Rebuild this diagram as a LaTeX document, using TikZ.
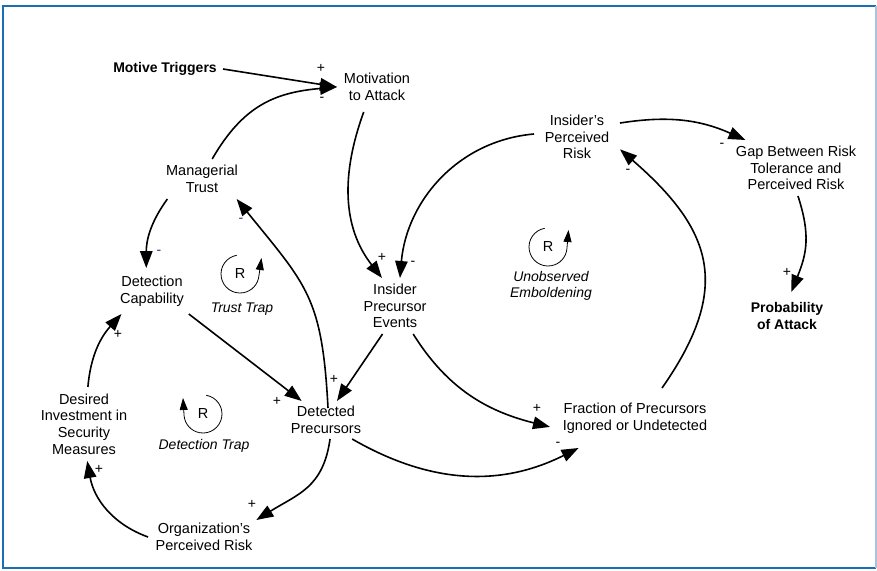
\documentclass[tikz,border=0pt]{standalone}
\usepackage{fontspec}
\setmainfont{Liberation Sans}
\usetikzlibrary{arrows.meta}
\definecolor{framecol}{RGB}{25,110,180}
\definecolor{framelight}{RGB}{170,195,220}
\definecolor{navy}{RGB}{40,50,140}
\tikzset{
  var/.style={draw=none, inner sep=0pt, outer sep=0pt, align=center, font=\fontsize{14.5}{16.7}\selectfont},
  bvar/.style={var, font=\fontsize{14}{16.7}\selectfont\bfseries},
  link/.style={line width=1.6pt, -{Triangle[length=17pt,width=12.5pt]}},
  sgn/.style={inner sep=0pt, font=\fontsize{14}{16}\selectfont},
  loopline/.style={line width=0.8pt, -{Triangle[length=12pt,width=8pt]}},
  rmark/.style={inner sep=0pt, font=\fontsize{14.5}{16}\selectfont},
  looplab/.style={inner sep=0pt, align=center, font=\fontsize{14}{16.7}\selectfont\itshape}
}
\begin{document}
\begin{tikzpicture}[x=1pt,y=1pt]
\useasboundingbox (0,0) rectangle (877,-570);
% frame
\coordinate (f1) at (876,-6);
\coordinate (f2) at (2.5,-6);
\coordinate (f3) at (2.5,-568);
\coordinate (f4) at (876,-568);
\draw[framecol, line width=2pt] (f1) -- (f2) -- (f3) -- (f4);
\draw[framelight, line width=1.5pt] (f1) -- (f4);

% variables
\node[bvar, minimum width=116pt, minimum height=20pt] (MT) at (165,-69) {Motive Triggers};
\node[var, minimum width=80pt, minimum height=50pt] (MA) at (377,-87) {Motivation\\to Attack};
\node[var, minimum width=76pt, minimum height=40pt] (MG) at (202,-179) {Managerial\\Trust};
\node[var, minimum width=80pt, minimum height=46pt] (DC) at (152,-291) {Detection\\Capability};
\node[var, minimum width=76pt, minimum height=56pt] (IPE) at (395,-306) {Insider\\Precursor\\Events};
\node[var, minimum width=86pt, minimum height=48pt] (IPR) at (577,-137) {Insider’s\\Perceived\\Risk};
\node[var, minimum width=124pt, minimum height=56pt] (GAP) at (796,-168) {Gap Between Risk\\Tolerance and\\Perceived Risk};
\node[bvar, minimum width=80pt, minimum height=48pt] (PA) at (787,-316) {Probability\\of Attack};
\node[var, minimum width=170pt, minimum height=60pt] (FR) at (635,-418) {Fraction of Precursors\\Ignored or Undetected};
\node[var, minimum width=80pt, minimum height=38pt] (DP) at (326,-420) {Detected\\Precursors};
\node[var, minimum width=96pt, minimum height=74pt] (DI) at (84,-424) {Desired\\Investment in\\Security\\Measures};
\node[var, minimum width=112pt, minimum height=34pt] (OPR) at (204,-537) {Organization’s\\Perceived Risk};

% links
\draw[link] (MT.east) -- (MA.west);
\draw[link] (MG.63) to[out=60,in=185,looseness=1.1] (MA.west);
\draw[link] (MA.242.5) to[out=250,in=128] (IPE.115);
\draw[link] (IPR.176) to[out=185,in=85] (IPE.80);
\draw[link] (MG.210) to[out=234,in=90] (DC.104.6);
\draw[link] ([xshift=2pt,yshift=-7pt]DP.north) to[out=93,in=309,looseness=1.25] (MG.-30);
\draw[link] (DC.-32.6) -- (DP.142.4);
\draw[link] (IPE.246.8) -- (DP.60);
\draw[link] (DI.84) to[out=85,in=228] (DC.217.5);
\draw[link] (OPR.west) to[out=160,in=-80] (DI.-85);
\draw[link] (DP.-78) to[out=262,in=32,looseness=1.15] (OPR.18.4);
\draw[link] (DP.-36.9) to[out=-30,in=206.6] (FR.208.6);
\draw[link] (IPE.-57) to[out=-58,in=166] (FR.186);
\draw[link] (FR.48) to[out=55,in=-41,looseness=1.3] (IPR.-16.8);
\draw[link] (IPR.18.4) to[out=9,in=156] (GAP.151);
\draw[link] (GAP.-86) to[out=-72,in=68,looseness=1.1] (PA.80.5);

% polarity signs
\node[sgn] (s1) at (321,-68) {+};
\node[sgn] (s2) at (322,-99) {-};
\node[sgn] (s3) at (382,-257) {+};
\node[sgn] (s4) at (413,-263) {-};
\node[sgn, text=navy] (s5) at (159,-252) {-};
\node[sgn, text=navy] (s6) at (241,-220) {-};
\node[sgn] (s7) at (277,-401) {+};
\node[sgn] (s8) at (334,-379) {+};
\node[sgn] (s9) at (118,-334) {+};
\node[sgn] (s10) at (99,-469) {+};
\node[sgn] (s11) at (252,-504) {+};
\node[sgn] (s12) at (558,-444) {-};
\node[sgn] (s13) at (537,-408) {+};
\node[sgn] (s14) at (628,-171) {-};
\node[sgn] (s15) at (722,-145) {-};
\node[sgn] (s16) at (787,-272) {+};

% loop markers
\node[rmark] (L1) at (240,-274) {R};
\draw[loopline] ([shift={(100:19)}]L1.center) arc[start angle=100,end angle=355,radius=19] -- ([shift={(21.5,16)}]L1.center);
\node[looplab] (T1) at (242,-309) {Trust Trap};

\node[rmark] (L2) at (203,-414) {R};
\draw[loopline] ([shift={(80:19)}]L2.center) arc[start angle=80,end angle=-175,radius=19] -- ([shift={(-20,16)}]L2.center);
\node[looplab] (T2) at (204,-446) {Detection Trap};

\node[rmark] (L3) at (548,-247) {R};
\draw[loopline] ([shift={(100:19)}]L3.center) arc[start angle=100,end angle=355,radius=19] -- ([shift={(20.5,17)}]L3.center);
\node[looplab] (T3) at (551,-286) {Unobserved\\Emboldening};
\end{tikzpicture}
\end{document}
